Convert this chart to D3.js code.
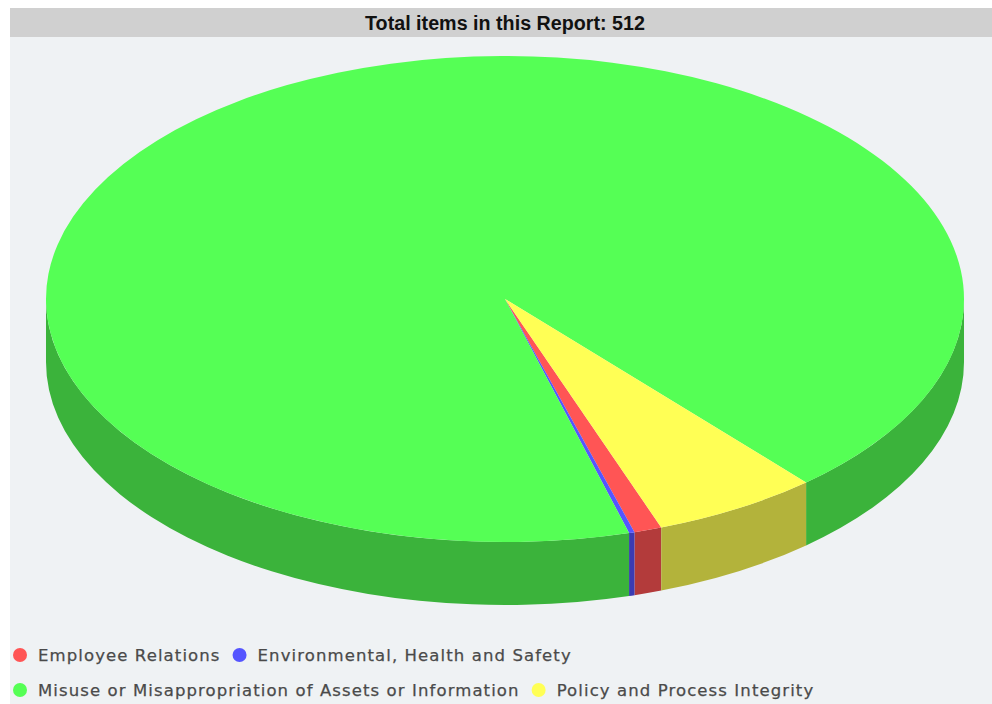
<!DOCTYPE html>
<html lang="en">
<head>
<meta charset="UTF-8">
<title>Total items</title>
<script src="https://d3js.org/d3.v7.min.js"></script>
<style>
    body { margin: 0; background: #fff; }
    .legend text { font: 16.5px "DejaVu Sans", sans-serif; fill: #4a4a4a; stroke: #4a4a4a; stroke-width: 0.25px; letter-spacing: 1.1px; }
    .title { font: bold 21px "Liberation Sans", Arial, sans-serif; fill: #111; }
</style>
</head>
<body>
<div id="chart"></div>
<script>
// data
var categories = ["Employee Relations", "Environmental, Health and Safety",
                  "Misuse or Misappropriation of Assets or Information", "Policy and Process Integrity"];
var counts = [5, 1, 476, 30];
var colors = ["#ff5555", "#5555ff", "#55ff55", "#ffff55"];
var titleText = "Total items in this Report: " + d3.sum(counts);

var W = 992, H = 704;
var cx = 505, cy = 299, rx = 459, ry = 243, depth = 63;

var svg = d3.select("#chart").append("svg")
    .attr("width", W).attr("height", H);

// background + title bar
svg.append("rect").attr("x", 10).attr("y", 8).attr("width", W - 10).attr("height", H - 8).attr("fill", "#eff2f4");
svg.append("rect").attr("x", 10).attr("y", 8).attr("width", W - 10).attr("height", 29).attr("fill", "#d0d0d0");

// title is a narrow face in the original, squeeze it horizontally
var title = svg.append("text").attr("class", "title")
    .attr("text-anchor", "middle")
    .text(titleText);
var tw = title.node().getComputedTextLength();
var sx = Math.min(1, 280 / tw);
title.attr("transform", "translate(505,30) scale(" + sx + ",1)");

// start so the first slice sits near the front (clockwise)
var start = 160.1 * Math.PI / 180;
var pie = d3.pie().sort(null).startAngle(start).endAngle(start + 2 * Math.PI);
var arcs = pie(counts);

// d3 pie angle (clockwise from 12 o'clock) -> point on the ellipse
function pt(a, dy) {
    var t = a - Math.PI / 2;
    return [cx + rx * Math.cos(t), cy + ry * Math.sin(t) + (dy || 0)];
}

// front wall pieces: ellipse parameter t in [0, pi] is the near half
var sides = [];
arcs.forEach(function(d, i) {
    var t0 = d.startAngle - Math.PI / 2, t1 = d.endAngle - Math.PI / 2;
    for (var k = -1; k <= 2; k++) {
        var lo = Math.max(t0, 2 * Math.PI * k), hi = Math.min(t1, 2 * Math.PI * k + Math.PI);
        if (hi > lo) sides.push({ i: i, a0: lo + Math.PI / 2, a1: hi + Math.PI / 2 });
    }
});

var g = svg.append("g");

g.selectAll("path.side")
    .data(sides)
    .enter().append("path")
    .attr("class", "side")
    .attr("fill", function(d) { return d3.color(colors[d.i]).darker(1); })
    .attr("d", function(d) {
        var p0 = pt(d.a0), p1 = pt(d.a1), q1 = pt(d.a1, depth), q0 = pt(d.a0, depth);
        var large = (d.a1 - d.a0) > Math.PI ? 1 : 0;
        return "M" + p0 + "A" + rx + "," + ry + " 0 " + large + " 1 " + p1 +
               "L" + q1 + "A" + rx + "," + ry + " 0 " + large + " 0 " + q0 + "Z";
    });

g.selectAll("path.top")
    .data(arcs)
    .enter().append("path")
    .attr("class", "top")
    .attr("fill", function(d, i) { return colors[i]; })
    .attr("d", function(d) {
        var p0 = pt(d.startAngle), p1 = pt(d.endAngle);
        var large = (d.endAngle - d.startAngle) > Math.PI ? 1 : 0;
        return "M" + cx + "," + cy + "L" + p0 + "A" + rx + "," + ry + " 0 " + large + " 1 " + p1 + "Z";
    });

// legend, flowing in rows
var legend = svg.append("g").attr("class", "legend");
var rows = [[0, 1], [2, 3]];
rows.forEach(function(row, r) {
    var x = 20, y = 655 + r * 35;
    row.forEach(function(i) {
        legend.append("circle").attr("cx", x).attr("cy", y).attr("r", 7).attr("fill", colors[i]);
        var t = legend.append("text").attr("x", x + 18).attr("y", y + 6).text(categories[i]);
        x += 18 + t.node().getComputedTextLength() + 19;
    });
});
</script>
</body>
</html>
